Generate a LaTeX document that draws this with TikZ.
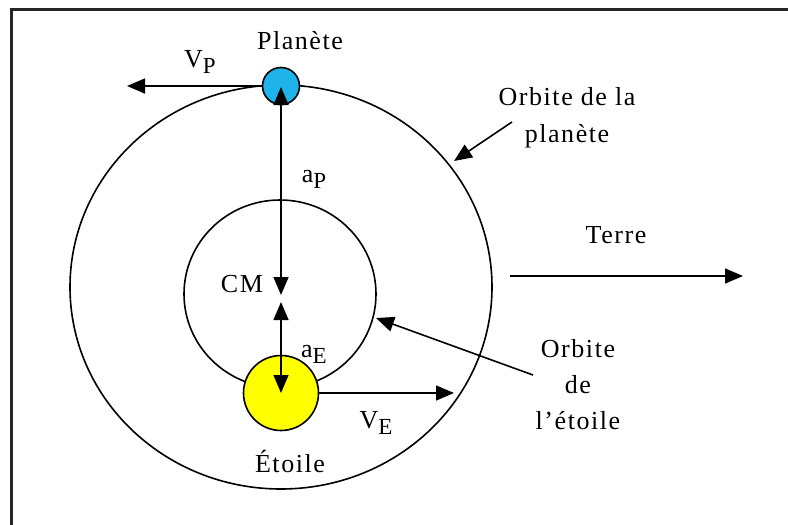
\documentclass[tikz,border=0pt]{standalone}
\usepackage{fontspec}
\setmainfont{Liberation Serif}[LetterSpace=6]
\usetikzlibrary{arrows.meta}
\definecolor{planetblue}{RGB}{30,180,235}
\definecolor{staryellow}{RGB}{255,255,0}
\tikzset{
  orbit/.style={draw=black, line width=1.6pt},
  body/.style={circle, draw=black, line width=1.6pt, inner sep=0pt},
  arr/.style={line width=1.6pt, -{Triangle[length=18pt,width=15pt]}},
  darr/.style={line width=1.6pt, {Triangle[length=18pt,width=15pt]}-{Triangle[length=18pt,width=15pt]}},
  lbl/.style={inner sep=0pt, anchor=base, font=\fontsize{26}{30}\selectfont},
  frameline/.style={draw=black!85, line width=3pt}
}
\newcommand{\subl}[1]{\raisebox{-6pt}{\fontsize{23}{24}\selectfont #1}}
\begin{document}
\begin{tikzpicture}[x=1pt,y=-1pt]
\useasboundingbox (0,0) rectangle (788,525);
\fill[white] (0,0) rectangle (788,525);
\draw[frameline] (788,9) -- (11,9) -- (11,525);
% orbits
\draw[orbit] (281,287) ellipse [x radius=211, y radius=202];
\draw[orbit] (280,294) ellipse [x radius=96, y radius=94];
% bodies
\node[body, fill=planetblue, minimum size=37pt] (planet) at (281,86) {};
\node[body, fill=staryellow, minimum size=75pt] (star) at (281,393) {};
% coordinates
\coordinate (cm) at (281,298);
\coordinate (aptop) at (281,87);
\coordinate (apbot) at (281,295);
\coordinate (aetop) at (281,302);
\coordinate (aebot) at (281,393);
\coordinate (vptip) at (127,86);
\coordinate (vetip) at (454,393);
\coordinate (terrestart) at (510,276);
\coordinate (terretip) at (743,276);
\coordinate (opstart) at (512,122);
\coordinate (optip) at (454,161);
\coordinate (oestart) at (533,375);
\coordinate (oetip) at (376,318);
% arrows
\draw[darr] (aptop) -- (apbot);
\draw[darr] (aetop) -- (aebot);
\draw[arr] (planet.west) -- (vptip);
\draw[arr] (star.east) -- (vetip);
\draw[arr] (terrestart) -- (terretip);
\draw[arr] (opstart) -- (optip);
\draw[arr] (oestart) -- (oetip);
% labels
\node[lbl] (lplanet) at (300,49) {Planète};
\node[lbl] (lvp) at (200,67) {V\subl{P}};
\node[lbl] (lop1) at (567,105) {Orbite de la};
\node[lbl] (lop2) at (567,142) {planète};
\node[lbl] (lterre) at (616,243) {Terre};
\node[lbl] (lcm) at (242,292) {CM};
\node[lbl] (lap) at (314,182) {a\subl{P}};
\node[lbl] (lae) at (314,357) {a\subl{E}};
\node[lbl] (lve) at (376,428) {V\subl{E}};
\node[lbl] (loe1) at (578,357) {Orbite};
\node[lbl] (loe2) at (578,393) {de};
\node[lbl] (loe3) at (578,429) {l’étoile};
\node[lbl] (letoile) at (290,472) {Étoile};
\end{tikzpicture}
\end{document}
